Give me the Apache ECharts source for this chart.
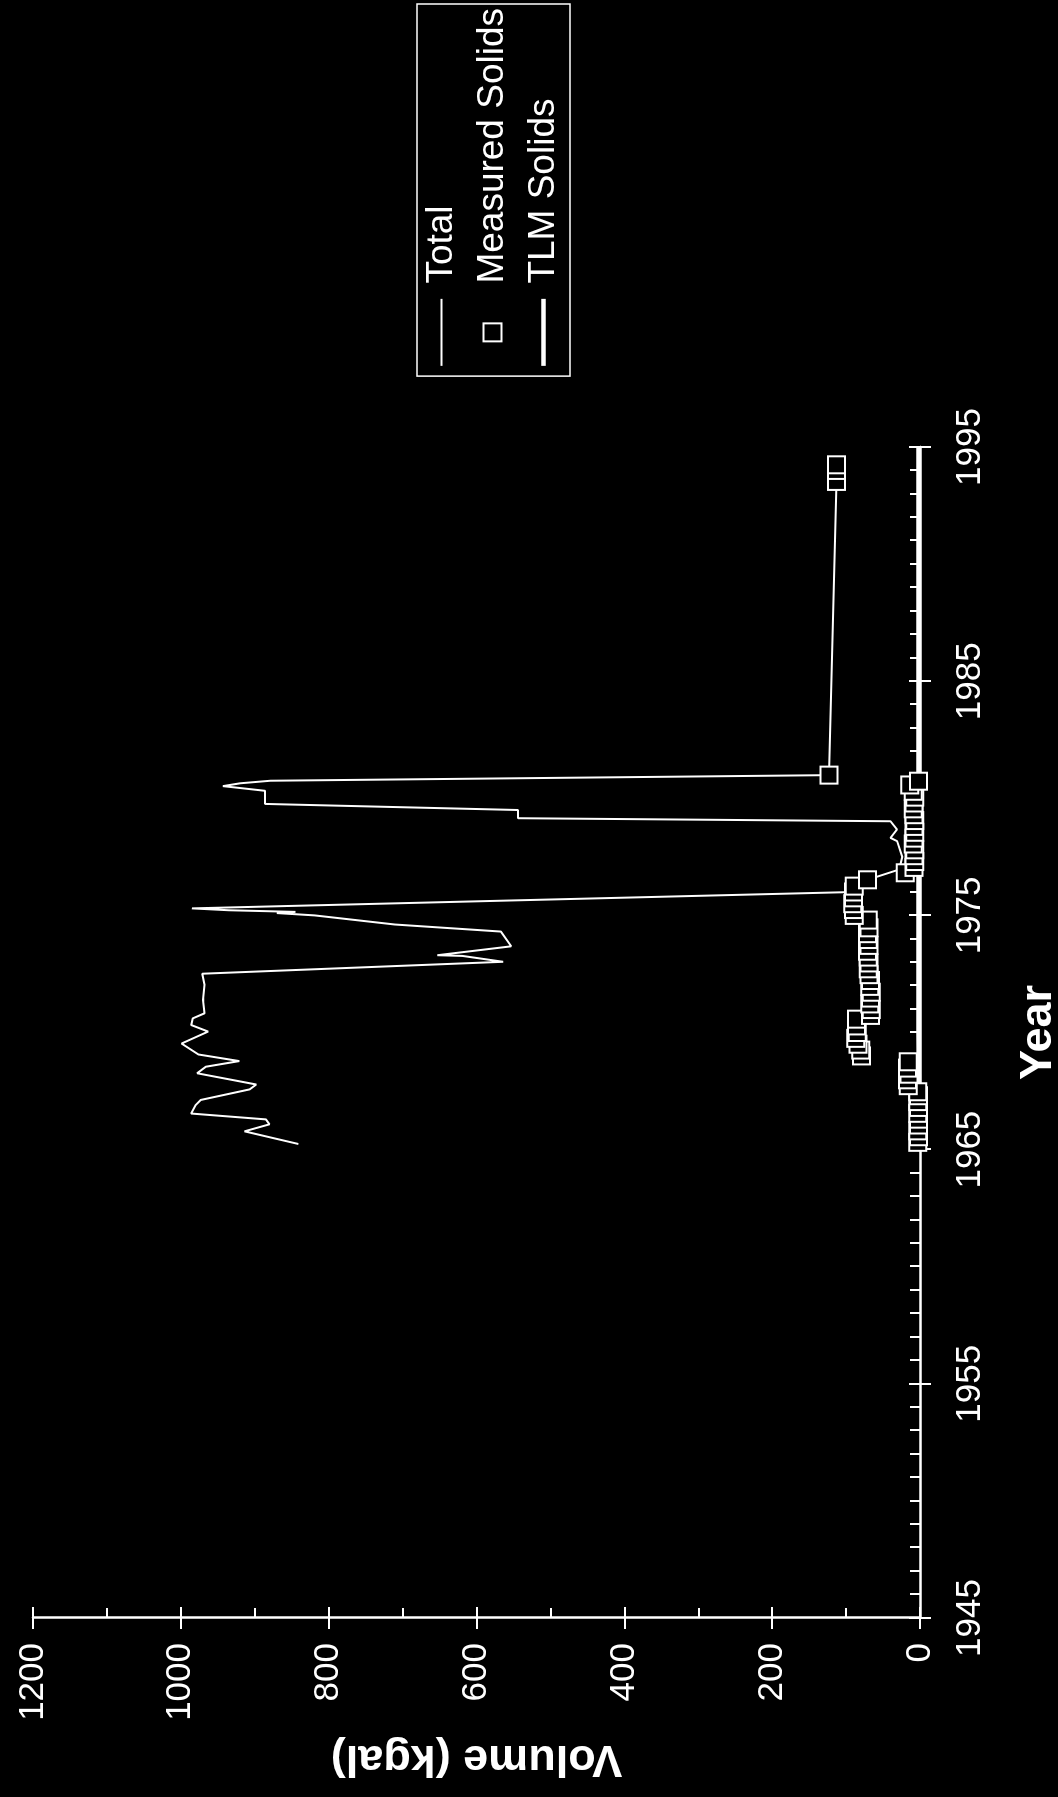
<!DOCTYPE html>
<html>
<head>
<meta charset="utf-8">
<title>Tank volume history</title>
<script src="https://cdn.jsdelivr.net/npm/echarts@6/dist/echarts.min.js"></script>
<style>
  html, body { margin: 0; padding: 0; background: #000; overflow: hidden; width: 1058px; height: 1797px; }
  /* The chart is laid out landscape and turned a quarter turn counter-clockwise on the page. */
  #chart {
    position: absolute; left: 0; top: 0;
    width: 1797px; height: 1058px;
    transform-origin: 0 0;
    transform: translateY(1797px) rotate(-90deg);
    background: #000;
  }
</style>
</head>
<body>
<div id="chart"></div>
<script>
// Total tank volume (kgal) by year
const totalYears = [
  1965.24, 1965.78, 1966.08, 1966.29, 1966.54, 1966.90, 1967.12, 1967.57, 1967.78, 1968.26,
  1968.54, 1968.78, 1969.06, 1969.53, 1970.04, 1970.32, 1970.60, 1970.82, 1971.39, 1972.04,
  1972.51, 1973.02, 1973.27, 1973.30, 1973.68, 1974.31, 1974.61, 1975.00, 1975.10, 1975.15,
  1975.22, 1975.30, 1976.00, 1976.52, 1976.96, 1977.50, 1978.17, 1978.31, 1978.67, 1979.02,
  1979.15, 1979.50, 1979.76, 1980.32, 1980.45, 1980.52, 1980.64, 1980.75, 1980.99, 1993.53,
  1994.00, 1994.24
];
const totalKgal = [
  841, 914, 880, 885, 986, 980, 973, 907, 898, 978,
  966, 921, 976, 999, 963, 986, 984, 968, 970, 968,
  971, 564, 619, 653, 553, 567, 710, 819, 870, 845,
  935, 985, 90, 71, 28, 24, 31, 40, 31, 40,
  544, 544, 886, 886, 923, 943, 920, 879, 123, 113,
  113, 113
];

// Measured solids (kgal) by year
const solidsYears = [
  1965.31, 1965.55, 1965.80, 1966.05, 1966.30, 1966.55, 1966.80, 1967.05, 1967.30, 1967.47,
  1967.73, 1967.98, 1968.22, 1968.48, 1968.75,
  1969.00, 1969.25, 1969.50, 1969.75, 1970.00, 1970.28, 1970.57,
  1970.73, 1970.98, 1971.22, 1971.47, 1971.72, 1971.97, 1972.22, 1972.47, 1972.72, 1972.97,
  1973.22, 1973.47, 1973.72, 1973.97, 1974.22, 1974.47, 1974.80,
  1975.00, 1975.25, 1975.50, 1975.75, 1976.00, 1976.25, 1976.52,
  1976.82, 1977.05, 1977.30, 1977.55, 1977.80, 1978.05, 1978.30, 1978.55, 1978.80, 1979.05,
  1979.30, 1979.55, 1979.80, 1980.05, 1980.30, 1980.57, 1980.73,
  1980.99, 1993.53, 1994.00, 1994.24
];
const solidsKgal = [
  3, 2, 3, 2, 2, 3, 2, 3, 2, 3,
  16, 17, 15, 17, 16,
  79, 80, 84, 87, 85, 86, 86,
  67, 66, 68, 67, 66, 68, 67, 69, 70, 69,
  70, 71, 69, 70, 71, 69, 70,
  89, 90, 91, 90, 90, 89, 71,
  20, 8, 7, 8, 7, 9, 8, 7, 8, 7,
  8, 9, 8, 7, 9, 14, 2,
  123, 113, 113, 113
];

// TLM solids (kgal) by year
const tlmYears = [1965.2, 1970.0, 1976.5, 1980.7, 1995.0];
const tlmKgal = [1, 2, 2, 2, 2];

// Axis ranges and tick steps
const yearRange = [1945, 1995];
const yearStep = 10;
const kgalRange = [0, 1200];
const kgalStep = 200;

const FONT = '"Liberation Sans", Arial, Helvetica, sans-serif';
const WHITE = '#ffffff';
const CLEAR = 'rgba(0,0,0,0)';
const TOTAL_WIDTH = 2;
const TLM_WIDTH = 4.5;

const pairs = (xs, ys) => xs.map((x, i) => [x, ys[i]]);
const plainNumber = (v) => String(v);

const yearBase = { type: 'value', min: yearRange[0], max: yearRange[1], interval: yearStep, position: 'bottom' };
const kgalBase = { type: 'value', min: kgalRange[0], max: kgalRange[1], interval: kgalStep, position: 'left' };
const tickStyle = { color: WHITE, width: 2 };
// line-only legend entries: hide the marker dot that line series draw in their legend icon
const lineOnlyIcon = { color: CLEAR, borderColor: CLEAR, borderWidth: 0, opacity: 0 };

const chart = echarts.init(document.getElementById('chart'), null, { renderer: 'canvas', width: 1797, height: 1058 });

chart.setOption({
  backgroundColor: '#000',
  animation: false,
  grid: { left: 179, right: 447, top: 33, bottom: 138, containLabel: false, outerBoundsMode: 'none' },
  legend: {
    orient: 'vertical',
    right: 4,
    top: 417,
    padding: [6, 4, 8, 8],
    itemGap: 14,
    itemWidth: 67,
    itemHeight: 18,
    borderColor: WHITE,
    borderWidth: 1.5,
    selectedMode: false,
    formatter: ' {name}',
    textStyle: { color: WHITE, fontSize: 37, fontFamily: FONT },
    data: [
      { name: 'Total', itemStyle: lineOnlyIcon, lineStyle: { color: WHITE, width: TOTAL_WIDTH } },
      { name: 'Measured Solids', icon: 'path://M0,0H10V10H0Z' },
      { name: 'TLM Solids', itemStyle: lineOnlyIcon, lineStyle: { color: WHITE, width: TLM_WIDTH } }
    ]
  },
  xAxis: [
    Object.assign({}, yearBase, {
      name: 'Year',
      nameLocation: 'middle',
      nameGap: 96,
      nameMoveOverlap: false,
      nameTextStyle: { color: WHITE, fontSize: 45, fontWeight: 'bold', fontFamily: FONT },
      axisLine: { show: true, onZero: false, lineStyle: { color: WHITE, width: 2.5 } },
      axisTick: { show: true, inside: false, length: 11, lineStyle: tickStyle },
      minorTick: { show: false },
      axisLabel: { show: true, margin: 33, color: WHITE, fontSize: 35, fontFamily: FONT, formatter: plainNumber },
      splitLine: { show: false }
    }),
    Object.assign({}, yearBase, {
      axisLine: { show: false },
      axisTick: { show: true, inside: true, length: 11, lineStyle: tickStyle },
      minorTick: { show: true, splitNumber: 10, length: 10, lineStyle: tickStyle },
      axisLabel: { show: false },
      splitLine: { show: false },
      minorSplitLine: { show: false }
    })
  ],
  yAxis: [
    Object.assign({}, kgalBase, {
      name: 'Volume (kgal)',
      nameLocation: 'middle',
      nameGap: 118,
      nameMoveOverlap: false,
      nameTextStyle: { color: WHITE, fontSize: 45, fontWeight: 'bold', fontFamily: FONT },
      axisLine: { show: true, onZero: false, lineStyle: { color: WHITE, width: 2.5 } },
      axisTick: { show: true, inside: false, length: 11, lineStyle: tickStyle },
      minorTick: { show: false },
      axisLabel: { show: true, margin: 25, color: WHITE, fontSize: 35, fontFamily: FONT, formatter: plainNumber },
      splitLine: { show: false }
    }),
    Object.assign({}, kgalBase, {
      axisLine: { show: false },
      axisTick: { show: true, inside: true, length: 11, lineStyle: tickStyle },
      minorTick: { show: true, splitNumber: 2, length: 10, lineStyle: tickStyle },
      axisLabel: { show: false },
      splitLine: { show: false },
      minorSplitLine: { show: false }
    })
  ],
  series: [
    {
      name: 'Total',
      type: 'line',
      xAxisIndex: 0,
      yAxisIndex: 0,
      data: pairs(totalYears, totalKgal),
      symbol: 'none',
      showSymbol: false,
      z: 2,
      itemStyle: { color: WHITE },
      lineStyle: { color: WHITE, width: TOTAL_WIDTH }
    },
    {
      name: 'TLM Solids',
      type: 'line',
      xAxisIndex: 0,
      yAxisIndex: 0,
      data: pairs(tlmYears, tlmKgal),
      symbol: 'none',
      showSymbol: false,
      z: 2,
      itemStyle: { color: WHITE },
      lineStyle: { color: WHITE, width: TLM_WIDTH }
    },
    {
      name: 'Measured Solids',
      type: 'scatter',
      xAxisIndex: 0,
      yAxisIndex: 0,
      data: pairs(solidsYears, solidsKgal),
      symbol: 'rect',
      symbolSize: 17,
      z: 4,
      itemStyle: { color: '#000000', borderColor: WHITE, borderWidth: 2, opacity: 1 }
    }
  ]
});
</script>
</body>
</html>
